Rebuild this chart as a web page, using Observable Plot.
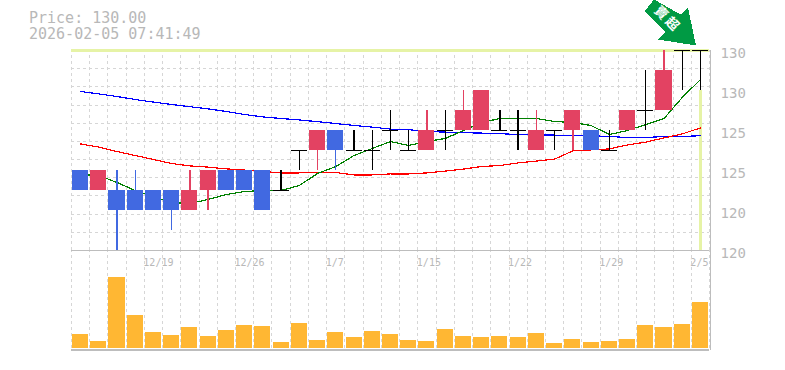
<!DOCTYPE html>
<html>
<head>
<meta charset="utf-8">
<script src="https://cdn.jsdelivr.net/npm/d3@7"></script>
<script src="https://cdn.jsdelivr.net/npm/@observablehq/plot@0.6"></script>
<style>
html,body{margin:0;padding:0;background:#fff;}
#chart{position:relative;width:785px;height:370px;overflow:hidden;font-family:"DejaVu Sans Mono",monospace;}
#head{position:absolute;left:29px;top:10px;font-size:15px;line-height:16px;color:#b8b8b8;white-space:pre;}
#chart svg{position:absolute;left:0;}
</style>
</head>
<body>
<div id="chart"><div id="head"></div></div>
<script>
const titleLines = ["Price: 130.00", "2026-02-05 07:41:49"];
const opens  = [124,123,123,123,123,123,122,123,124,124,124,123,125,125,126,125,125,126,125,125,126,126,126,126,126,125,126,126,126,125,126,127,127,130,130];
const closes = [123,124,122,122,122,122,123,124,123,123,122,123,125,126,125,125,125,126,125,126,126,127,128,126,126,126,126,127,125,125,127,127,129,130,130];
const highs  = [124,124,124,124,123,123,124,124,124,124,124,124,125,126,126,126,126,127,126,127,127,128,128,127,127,127,126,127,126,126,127,129,130,130,130];
const lows   = [123,123,120,122,122,121,122,122,123,123,122,123,124,124,124,125,124,125,125,125,125,126,126,126,125,125,125,125,125,125,126,126,127,128,128];
const volumes = [14,7,71,33,16,13,21,12,18,23,22,6,25,8,16,11,17,14,8,7,19,12,11,12,11,15,5,9,6,7,9,23,21,24,46];
const maShort = [123.8,123.75,123.4,123,122.7,122.4,122.35,122.55,122.8,122.95,123,123,123.25,123.85,124.2,124.75,125.1,125.45,125.25,125.45,125.6,126,126.4,126.6,126.6,126.6,126.45,126.4,126.25,125.8,126,126.3,126.6,127.65,128.55];
const maMid = [125.33,125.17,124.95,124.75,124.55,124.35,124.23,124.17,124.08,124.02,123.95,123.88,123.88,123.9,123.9,123.78,123.78,123.83,123.83,123.88,123.97,124.07,124.2,124.25,124.38,124.47,124.57,124.98,125.03,125.08,125.28,125.42,125.63,125.83,126.13];
const maLong = [127.95,127.83,127.7,127.55,127.42,127.3,127.19,127.08,126.95,126.8,126.68,126.6,126.53,126.44,126.35,126.25,126.17,126.07,126.04,125.95,125.92,125.89,125.87,125.84,125.8,125.78,125.77,125.77,125.74,125.7,125.65,125.65,125.7,125.7,125.74];
const priceTicks = [130,128,126,124,122,120];
const priceTickLabels = ["130","130","125","125","120","120"];
const dateLabels = [{i:4,t:"12/19"},{i:9,t:"12/26"},{i:14,t:"1/7"},{i:19,t:"1/15"},{i:24,t:"1/22"},{i:29,t:"1/29"},{i:34,t:"2/5"}];
const lastPrice = 130;
const arrowLabel = "賣\u2009超";
const gridDivisions = 11;

const COL = {up:"#e34262", down:"#4169e1", flat:"#000", grid:"#d6d6d6", frame:"#bdbdbd", text:"#b8b8b8", vol:"#ffb733", mark:"#e6f3a6", arrow:"#009a44"};
const idx = d3.range(opens.length);
const half = 0.44;
const colorOf = i => closes[i] > opens[i] ? COL.up : closes[i] < opens[i] ? COL.down : COL.flat;
const vGrid = d3.range(-0.5, 35, 1);
const hGrid = d3.range(0, gridDivisions + 1).map(k => 130 - k * 10 / gridDivisions);

// arrow outline relative to its tip, in pixels
const arrowShape = {
  draw(ctx) {
    ctx.moveTo(0,0);
    ctx.lineTo(-38,-6);
    ctx.lineTo(-30.5,-13.5);
    ctx.lineTo(-51,-34.5);
    ctx.lineTo(-42,-46);
    ctx.lineTo(-15.5,-31);
    ctx.lineTo(-8,-38);
    ctx.closePath();
  }
};

const base = {width:785, marginLeft:70.9, marginRight:75.9, x:{type:"linear", domain:[-0.5,34.5], axis:null}};
const price = Plot.plot({
  ...base, height:256, marginTop:50, marginBottom:6,
  style:{background:"transparent", shapeRendering:"crispEdges", overflow:"visible"},
  y:{domain:[120,130], axis:null},
  marks:[
    Plot.ruleY(hGrid, {x1:-0.5, x2:34.5, stroke:COL.grid, strokeDasharray:"3 3"}),
    Plot.ruleX(vGrid, {y1:120, y2:130, stroke:COL.grid, strokeDasharray:"3 3"}),
    Plot.ruleY([lastPrice], {x1:-0.5, x2:34.5, stroke:COL.mark, strokeWidth:3}),
    Plot.ruleX([34], {y1:lows[34], y2:120, stroke:COL.mark, strokeWidth:3}),
    Plot.line(idx, {x:i=>i, y:i=>maLong[i], stroke:"#0000ff", strokeWidth:1.2}),
    Plot.line(idx, {x:i=>i, y:i=>maMid[i], stroke:"#ff0000", strokeWidth:1.2}),
    Plot.line(idx, {x:i=>i, y:i=>maShort[i], stroke:"#008000", strokeWidth:1.2}),
    Plot.ruleX(idx, {x:i=>i, y1:i=>lows[i], y2:i=>highs[i], stroke:colorOf, strokeWidth:1.4}),
    Plot.rect(idx.filter(i=>opens[i]!==closes[i]), {x1:i=>i-half, x2:i=>i+half, y1:i=>opens[i], y2:i=>closes[i], fill:colorOf}),
    Plot.ruleY(idx.filter(i=>opens[i]===closes[i]), {x1:i=>i-half, x2:i=>i+half, y:i=>opens[i], stroke:COL.flat, strokeWidth:1.4}),
    Plot.ruleY([120], {x1:-0.5, x2:34.5, stroke:COL.frame, strokeWidth:1.6}),
    Plot.ruleX([34.5], {y1:120, y2:130, stroke:COL.frame, strokeWidth:1.6, dx:1}),
    Plot.axisY(priceTicks, {anchor:"right", tickSize:0, tickPadding:11, dy:3, label:null,
      tickFormat:(d,i)=>priceTickLabels[i], fontSize:14, fill:COL.text, fontFamily:"DejaVu Sans Mono"}),
    Plot.vector([{x:34,y:130}], {x:"x", y:"y", length:10, anchor:"start", shape:arrowShape, fill:COL.arrow, stroke:null, dx:-4.5, dy:-5}),
    Plot.text([arrowLabel], {x:34, y:130, text:d=>d, rotate:45, dx:-34, dy:-32, fill:"#fff", fontSize:13, fontWeight:"bold", fontFamily:"Noto Sans CJK TC"})
  ]
});
price.style.top = "0px";

const vol = Plot.plot({
  ...base, height:104, marginTop:0, marginBottom:4,
  style:{background:"transparent", shapeRendering:"crispEdges"},
  y:{domain:[-2,98], axis:null},
  marks:[
    Plot.ruleX(vGrid, {y1:0, y2:98, stroke:COL.grid, strokeDasharray:"3 3"}),
    Plot.rect(idx, {x1:i=>i-half, x2:i=>i+half, y1:0, y2:i=>volumes[i], fill:COL.vol}),
    Plot.ruleY([-1.5], {x1:-0.5, x2:34.5, stroke:COL.frame, strokeWidth:1.6}),
    Plot.ruleX([34.5], {y1:-1.5, y2:98, stroke:COL.frame, strokeWidth:1.6, dx:1}),
    Plot.text(dateLabels, {x:d=>d.i-0.5, frameAnchor:"top", text:"t", textAnchor:"start", dx:-1, dy:8, fill:COL.text, fontSize:10, fontFamily:"DejaVu Sans Mono"})
  ]
});
vol.style.top = "250px";

document.getElementById("head").textContent = titleLines.join("\n");
const host = document.getElementById("chart");
host.appendChild(vol);
host.appendChild(price);
</script>
</body>
</html>
